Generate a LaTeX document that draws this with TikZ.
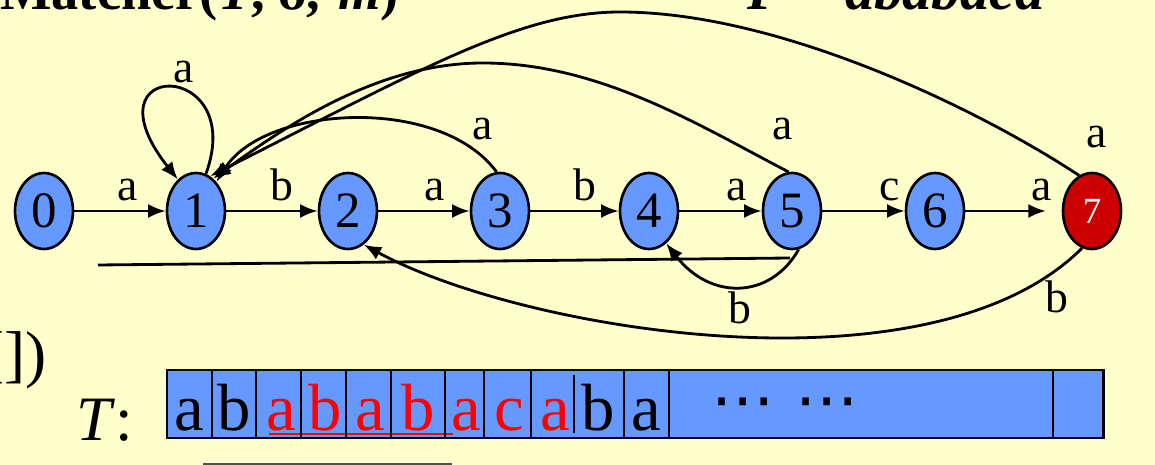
\documentclass[tikz,border=0pt]{standalone}
\usepackage{fontspec}
\setmainfont{Liberation Serif}
\newfontfamily\dejavu{DejaVu Sans}
\usetikzlibrary{shapes.geometric,arrows.meta}
\definecolor{bgyellow}{HTML}{FFFFCC}
\definecolor{nodeblue}{HTML}{6699FF}
\definecolor{acceptred}{HTML}{CC0000}
\definecolor{hlred}{HTML}{FF0000}
\definecolor{edgegray}{HTML}{505050}
\tikzset{
  stnode/.style={ellipse, draw=black, line width=1.5pt, fill=nodeblue, minimum width=1.16cm, minimum height=1.52cm, inner sep=0pt, font=\fontsize{29}{29}\selectfont},
  acceptnode/.style={stnode, fill=acceptred, text=white, font=\fontsize{21}{21}\selectfont},
  lab/.style={anchor=base, inner sep=0pt, font=\fontsize{26}{26}\selectfont},
  trans/.style={line width=1.6pt, -{Latex[length=10pt,width=8pt]}},
  cellline/.style={line width=1.4pt},
  tapetext/.style={anchor=base, inner sep=0pt, font=\fontsize{38}{38}\selectfont},
  redtape/.style={tapetext, text=hlred},
  bigtext/.style={inner sep=0pt, font=\fontsize{36}{36}\selectfont},
  titletext/.style={inner sep=0pt, font=\bfseries\fontsize{31}{31}\selectfont},
}
\begin{document}
\begin{tikzpicture}[x=0.02cm, y=-0.02cm]
\fill[bgyellow] (0,0) rectangle (1155,465);
\useasboundingbox (0,0) rectangle (1155,465);
\clip (0,0) rectangle (1155,465);

% top (clipped) texts
\node[titletext, anchor=base west] (title) at (0,10) {Matcher(\textit{T}, δ,\hspace{10pt}\textit{m})};
\node[titletext, anchor=base east, font=\bfseries\itshape\fontsize{33}{33}\selectfont] (pat) at (1045,10) {P = ababaca};

% states
\node[stnode] (n0) at (44,211) {0};
\node[stnode] (n1) at (196,211) {1};
\node[stnode] (n2) at (348,211) {2};
\node[stnode] (n3) at (500,211) {3};
\node[stnode] (n4) at (649,211) {4};
\node[stnode] (n5) at (792,211) {5};
\node[stnode] (n6) at (935,211) {6};
\node[acceptnode] (n7) at (1092,211) {7};

% forward transitions
\draw[trans] (n0) -- (n1);
\draw[trans] (n1) -- (n2);
\draw[trans] (n2) -- (n3);
\draw[trans] (n3) -- (n4);
\draw[trans] (n4) -- (n5);
\draw[trans] (n5) -- (n6);
\draw[trans, shorten >=9pt] (n6) -- (n7);

% back transitions
\draw[trans] (n1.75) .. controls (248,58) and (82,58) .. (n1.120);
\draw[trans] (n3.95) .. controls (440,95) and (265,105) .. (n1.55);
\draw[trans] (n5.95) .. controls (700,126) and (600,63) .. (483,63)
                     .. controls (380,63) and (290,123) .. (n1.62);
\draw[trans] (n7.110) .. controls (980,110) and (780,12) .. (620,12)
                      .. controls (520,12) and (420,70) .. (n1.68);
\draw[trans] (n5.-80) .. controls (770,300) and (710,300) .. (n4.-62);
\draw[trans] (n7.-105) .. controls (930,400) and (520,330) .. (n2.-65);

% stray line
\coordinate (hl) at (98,265);
\coordinate (hr) at (790,258);
\draw[line width=1.6pt] (hl) -- (hr);

% labels
\node[lab] (l11) at (184,83) {a};
\node[lab] (l01) at (128,201) {a};
\node[lab] (l12) at (282,201) {b};
\node[lab] (l23) at (435,201) {a};
\node[lab] (l34) at (585,201) {b};
\node[lab] (l45) at (737,201) {a};
\node[lab] (l56) at (890,201) {c};
\node[lab] (l67) at (1042,201) {a};
\node[lab] (l31) at (483,140) {a};
\node[lab] (l51) at (783,140) {a};
\node[lab] (l71) at (1097,148) {a};
\node[lab] (l54) at (740,324) {b};
\node[lab] (l72) at (1057,313) {b};

% left fragments
\node[bigtext, anchor=base east] (frag) at (47,376) {[])};
\node[bigtext, anchor=base west] (tlabel) at (76,440) {\textit{T}:};

% tape
\fill[nodeblue] (167,370) rectangle (1103,438);
\draw[hlred, line width=1.7pt] (269,434) -- (453,434);
\foreach \x in {212,256,301,346,391,445,484,531,624,669,1053}
  \draw[cellline] (\x,370) -- (\x,438);
\draw[line width=1pt] (574,375) -- (574,433);
\draw[line width=1.7pt] (167,370) rectangle (1103,438);

\node[tapetext] (t1) at (189,430) {a};
\node[tapetext] (t2) at (234,430) {b};
\node[redtape] (t3) at (281,430) {a};
\node[redtape] (t4) at (325,430) {b};
\node[redtape] (t5) at (370,430) {a};
\node[redtape] (t6) at (418,430) {b};
\node[redtape] (t7) at (466,430) {a};
\node[redtape] (t8) at (509,430) {c};
\node[redtape] (t9) at (555,430) {a};
\node[tapetext] (t10) at (598,430) {b};
\node[tapetext] (t11) at (646,430) {a};
\node[inner sep=0pt, font=\dejavu\fontsize{36}{36}\selectfont] (dots) at (785,410) {⋯ ⋯};

% bottom edge line
\coordinate (bl) at (203,464);
\coordinate (br) at (452,464);
\draw[edgegray, line width=1.5pt] (bl) -- (br);
\end{tikzpicture}
\end{document}
